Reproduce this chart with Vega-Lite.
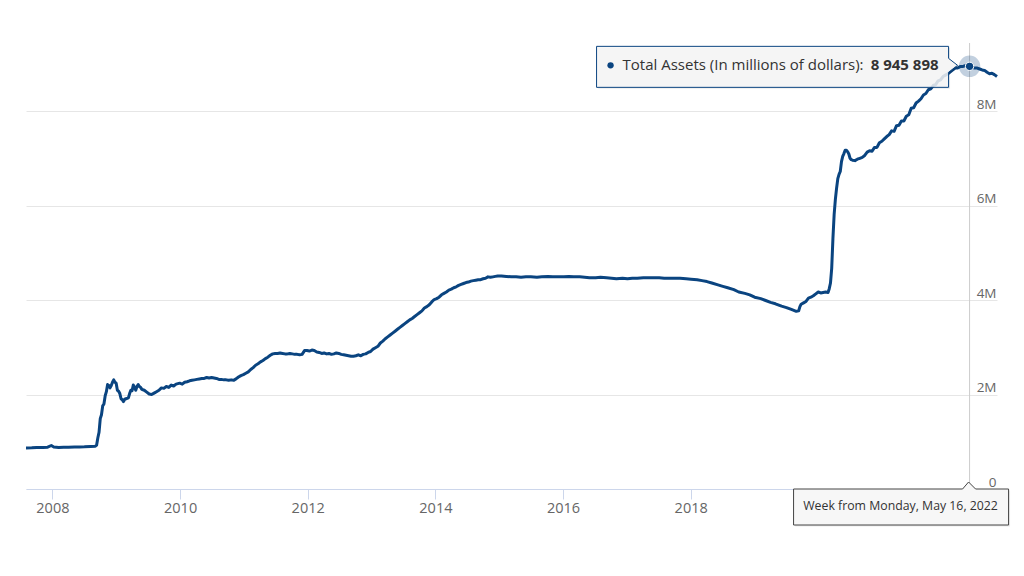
{
  "$schema": "https://vega.github.io/schema/vega-lite/v6.json",
  "width": 971,
  "height": 446,
  "autosize": {"type": "none"},
  "padding": {"left": 26, "top": 43, "right": 27, "bottom": 87},
  "background": "white",
  "config": {
    "view": {"stroke": null},
    "font": "Open Sans",
    "axis": {"labelFont": "Open Sans", "title": null}
  },
  "datasets": {
    "assets": [
      {"date": "2007-08-03", "value": 870000},
      {"date": "2007-09-05", "value": 872000},
      {"date": "2007-10-03", "value": 878000},
      {"date": "2007-11-07", "value": 876000},
      {"date": "2007-12-05", "value": 885000},
      {"date": "2007-12-26", "value": 921000},
      {"date": "2008-01-09", "value": 890000},
      {"date": "2008-02-06", "value": 878000},
      {"date": "2008-03-05", "value": 884000},
      {"date": "2008-04-02", "value": 882000},
      {"date": "2008-05-07", "value": 887000},
      {"date": "2008-06-04", "value": 890000},
      {"date": "2008-07-02", "value": 893000},
      {"date": "2008-08-06", "value": 900000},
      {"date": "2008-09-03", "value": 905000},
      {"date": "2008-09-10", "value": 928000},
      {"date": "2008-09-17", "value": 1080000},
      {"date": "2008-09-24", "value": 1200000},
      {"date": "2008-10-01", "value": 1490000},
      {"date": "2008-10-08", "value": 1570000},
      {"date": "2008-10-15", "value": 1760000},
      {"date": "2008-10-22", "value": 1800000},
      {"date": "2008-10-29", "value": 1970000},
      {"date": "2008-11-05", "value": 2060000},
      {"date": "2008-11-12", "value": 2210000},
      {"date": "2008-11-19", "value": 2190000},
      {"date": "2008-11-26", "value": 2140000},
      {"date": "2008-12-03", "value": 2190000},
      {"date": "2008-12-10", "value": 2260000},
      {"date": "2008-12-17", "value": 2310000},
      {"date": "2008-12-24", "value": 2260000},
      {"date": "2008-12-31", "value": 2240000},
      {"date": "2009-01-07", "value": 2090000},
      {"date": "2009-01-14", "value": 2070000},
      {"date": "2009-01-21", "value": 2020000},
      {"date": "2009-01-28", "value": 1910000},
      {"date": "2009-02-04", "value": 1890000},
      {"date": "2009-02-11", "value": 1850000},
      {"date": "2009-02-18", "value": 1900000},
      {"date": "2009-02-25", "value": 1910000},
      {"date": "2009-03-04", "value": 1920000},
      {"date": "2009-03-11", "value": 1930000},
      {"date": "2009-03-18", "value": 2020000},
      {"date": "2009-03-25", "value": 2090000},
      {"date": "2009-04-01", "value": 2080000},
      {"date": "2009-04-08", "value": 2200000},
      {"date": "2009-04-15", "value": 2160000},
      {"date": "2009-04-22", "value": 2090000},
      {"date": "2009-04-29", "value": 2170000},
      {"date": "2009-05-06", "value": 2210000},
      {"date": "2009-05-13", "value": 2170000},
      {"date": "2009-05-20", "value": 2150000},
      {"date": "2009-05-27", "value": 2110000},
      {"date": "2009-06-10", "value": 2090000},
      {"date": "2009-06-24", "value": 2050000},
      {"date": "2009-07-08", "value": 2010000},
      {"date": "2009-07-22", "value": 2000000},
      {"date": "2009-08-05", "value": 2030000},
      {"date": "2009-08-19", "value": 2060000},
      {"date": "2009-09-02", "value": 2090000},
      {"date": "2009-09-16", "value": 2140000},
      {"date": "2009-09-30", "value": 2130000},
      {"date": "2009-10-14", "value": 2170000},
      {"date": "2009-10-28", "value": 2150000},
      {"date": "2009-11-11", "value": 2200000},
      {"date": "2009-11-25", "value": 2180000},
      {"date": "2009-12-09", "value": 2220000},
      {"date": "2009-12-30", "value": 2240000},
      {"date": "2010-01-13", "value": 2220000},
      {"date": "2010-01-27", "value": 2260000},
      {"date": "2010-02-10", "value": 2270000},
      {"date": "2010-02-24", "value": 2290000},
      {"date": "2010-03-10", "value": 2300000},
      {"date": "2010-03-24", "value": 2310000},
      {"date": "2010-04-07", "value": 2320000},
      {"date": "2010-04-21", "value": 2330000},
      {"date": "2010-05-05", "value": 2340000},
      {"date": "2010-05-19", "value": 2340000},
      {"date": "2010-06-02", "value": 2360000},
      {"date": "2010-06-16", "value": 2350000},
      {"date": "2010-06-30", "value": 2360000},
      {"date": "2010-07-14", "value": 2350000},
      {"date": "2010-07-28", "value": 2340000},
      {"date": "2010-08-11", "value": 2320000},
      {"date": "2010-08-25", "value": 2320000},
      {"date": "2010-09-08", "value": 2310000},
      {"date": "2010-09-22", "value": 2310000},
      {"date": "2010-10-06", "value": 2300000},
      {"date": "2010-10-20", "value": 2310000},
      {"date": "2010-11-03", "value": 2300000},
      {"date": "2010-11-17", "value": 2330000},
      {"date": "2010-12-01", "value": 2370000},
      {"date": "2010-12-15", "value": 2400000},
      {"date": "2010-12-29", "value": 2420000},
      {"date": "2011-01-12", "value": 2450000},
      {"date": "2011-01-26", "value": 2480000},
      {"date": "2011-02-09", "value": 2530000},
      {"date": "2011-02-23", "value": 2570000},
      {"date": "2011-03-09", "value": 2620000},
      {"date": "2011-03-23", "value": 2650000},
      {"date": "2011-04-06", "value": 2690000},
      {"date": "2011-04-20", "value": 2720000},
      {"date": "2011-05-04", "value": 2760000},
      {"date": "2011-05-18", "value": 2790000},
      {"date": "2011-06-01", "value": 2830000},
      {"date": "2011-06-15", "value": 2860000},
      {"date": "2011-06-29", "value": 2870000},
      {"date": "2011-07-13", "value": 2870000},
      {"date": "2011-07-27", "value": 2880000},
      {"date": "2011-08-10", "value": 2870000},
      {"date": "2011-08-24", "value": 2860000},
      {"date": "2011-09-07", "value": 2860000},
      {"date": "2011-09-21", "value": 2870000},
      {"date": "2011-10-05", "value": 2860000},
      {"date": "2011-10-19", "value": 2850000},
      {"date": "2011-11-02", "value": 2850000},
      {"date": "2011-11-16", "value": 2840000},
      {"date": "2011-11-30", "value": 2850000},
      {"date": "2011-12-14", "value": 2930000},
      {"date": "2011-12-28", "value": 2930000},
      {"date": "2012-01-11", "value": 2920000},
      {"date": "2012-01-25", "value": 2940000},
      {"date": "2012-02-08", "value": 2930000},
      {"date": "2012-02-22", "value": 2900000},
      {"date": "2012-03-07", "value": 2890000},
      {"date": "2012-03-21", "value": 2870000},
      {"date": "2012-04-04", "value": 2880000},
      {"date": "2012-04-18", "value": 2860000},
      {"date": "2012-05-02", "value": 2870000},
      {"date": "2012-05-16", "value": 2850000},
      {"date": "2012-05-30", "value": 2860000},
      {"date": "2012-06-13", "value": 2880000},
      {"date": "2012-06-27", "value": 2870000},
      {"date": "2012-07-11", "value": 2850000},
      {"date": "2012-07-25", "value": 2840000},
      {"date": "2012-08-08", "value": 2830000},
      {"date": "2012-08-22", "value": 2820000},
      {"date": "2012-09-05", "value": 2810000},
      {"date": "2012-09-19", "value": 2810000},
      {"date": "2012-10-03", "value": 2820000},
      {"date": "2012-10-17", "value": 2840000},
      {"date": "2012-10-31", "value": 2820000},
      {"date": "2012-11-14", "value": 2850000},
      {"date": "2012-11-28", "value": 2860000},
      {"date": "2012-12-12", "value": 2890000},
      {"date": "2012-12-26", "value": 2910000},
      {"date": "2013-01-09", "value": 2960000},
      {"date": "2013-01-23", "value": 2990000},
      {"date": "2013-02-06", "value": 3020000},
      {"date": "2013-02-20", "value": 3090000},
      {"date": "2013-03-06", "value": 3130000},
      {"date": "2013-03-20", "value": 3180000},
      {"date": "2013-04-03", "value": 3220000},
      {"date": "2013-04-17", "value": 3260000},
      {"date": "2013-05-01", "value": 3300000},
      {"date": "2013-05-15", "value": 3340000},
      {"date": "2013-05-29", "value": 3380000},
      {"date": "2013-06-12", "value": 3420000},
      {"date": "2013-06-26", "value": 3460000},
      {"date": "2013-07-10", "value": 3500000},
      {"date": "2013-07-24", "value": 3540000},
      {"date": "2013-08-07", "value": 3580000},
      {"date": "2013-08-21", "value": 3610000},
      {"date": "2013-09-04", "value": 3650000},
      {"date": "2013-09-18", "value": 3690000},
      {"date": "2013-10-02", "value": 3730000},
      {"date": "2013-10-16", "value": 3770000},
      {"date": "2013-10-30", "value": 3830000},
      {"date": "2013-11-13", "value": 3860000},
      {"date": "2013-11-27", "value": 3900000},
      {"date": "2013-12-11", "value": 3960000},
      {"date": "2013-12-25", "value": 4010000},
      {"date": "2014-01-08", "value": 4030000},
      {"date": "2014-01-22", "value": 4060000},
      {"date": "2014-02-05", "value": 4110000},
      {"date": "2014-02-19", "value": 4140000},
      {"date": "2014-03-05", "value": 4170000},
      {"date": "2014-03-19", "value": 4210000},
      {"date": "2014-04-02", "value": 4230000},
      {"date": "2014-04-16", "value": 4260000},
      {"date": "2014-04-30", "value": 4280000},
      {"date": "2014-05-14", "value": 4310000},
      {"date": "2014-05-28", "value": 4330000},
      {"date": "2014-06-11", "value": 4350000},
      {"date": "2014-06-25", "value": 4370000},
      {"date": "2014-07-09", "value": 4380000},
      {"date": "2014-07-23", "value": 4400000},
      {"date": "2014-08-06", "value": 4410000},
      {"date": "2014-08-20", "value": 4420000},
      {"date": "2014-09-03", "value": 4430000},
      {"date": "2014-09-17", "value": 4430000},
      {"date": "2014-10-01", "value": 4450000},
      {"date": "2014-10-15", "value": 4460000},
      {"date": "2014-10-29", "value": 4490000},
      {"date": "2014-11-12", "value": 4480000},
      {"date": "2014-11-26", "value": 4490000},
      {"date": "2014-12-10", "value": 4500000},
      {"date": "2014-12-24", "value": 4510000},
      {"date": "2015-01-14", "value": 4510000},
      {"date": "2015-02-11", "value": 4500000},
      {"date": "2015-03-11", "value": 4490000},
      {"date": "2015-04-08", "value": 4490000},
      {"date": "2015-05-06", "value": 4480000},
      {"date": "2015-06-03", "value": 4490000},
      {"date": "2015-07-01", "value": 4490000},
      {"date": "2015-08-05", "value": 4480000},
      {"date": "2015-09-02", "value": 4490000},
      {"date": "2015-10-07", "value": 4500000},
      {"date": "2015-11-04", "value": 4490000},
      {"date": "2015-12-02", "value": 4490000},
      {"date": "2016-01-06", "value": 4490000},
      {"date": "2016-02-03", "value": 4500000},
      {"date": "2016-03-02", "value": 4490000},
      {"date": "2016-04-06", "value": 4490000},
      {"date": "2016-05-04", "value": 4480000},
      {"date": "2016-06-01", "value": 4470000},
      {"date": "2016-07-06", "value": 4470000},
      {"date": "2016-08-03", "value": 4480000},
      {"date": "2016-09-07", "value": 4470000},
      {"date": "2016-10-05", "value": 4460000},
      {"date": "2016-11-02", "value": 4450000},
      {"date": "2016-12-07", "value": 4460000},
      {"date": "2017-01-04", "value": 4450000},
      {"date": "2017-02-01", "value": 4460000},
      {"date": "2017-03-01", "value": 4460000},
      {"date": "2017-04-05", "value": 4470000},
      {"date": "2017-05-03", "value": 4470000},
      {"date": "2017-06-07", "value": 4470000},
      {"date": "2017-07-05", "value": 4470000},
      {"date": "2017-08-02", "value": 4460000},
      {"date": "2017-09-06", "value": 4460000},
      {"date": "2017-10-04", "value": 4460000},
      {"date": "2017-11-01", "value": 4460000},
      {"date": "2017-12-06", "value": 4450000},
      {"date": "2018-01-03", "value": 4440000},
      {"date": "2018-02-07", "value": 4430000},
      {"date": "2018-03-07", "value": 4410000},
      {"date": "2018-04-04", "value": 4390000},
      {"date": "2018-05-02", "value": 4360000},
      {"date": "2018-06-06", "value": 4320000},
      {"date": "2018-07-04", "value": 4290000},
      {"date": "2018-08-01", "value": 4260000},
      {"date": "2018-09-05", "value": 4220000},
      {"date": "2018-10-03", "value": 4170000},
      {"date": "2018-11-07", "value": 4140000},
      {"date": "2018-12-05", "value": 4110000},
      {"date": "2019-01-02", "value": 4060000},
      {"date": "2019-02-06", "value": 4030000},
      {"date": "2019-03-06", "value": 3990000},
      {"date": "2019-04-03", "value": 3950000},
      {"date": "2019-05-01", "value": 3920000},
      {"date": "2019-06-05", "value": 3870000},
      {"date": "2019-07-03", "value": 3840000},
      {"date": "2019-07-31", "value": 3800000},
      {"date": "2019-08-14", "value": 3780000},
      {"date": "2019-08-28", "value": 3760000},
      {"date": "2019-09-11", "value": 3770000},
      {"date": "2019-09-18", "value": 3860000},
      {"date": "2019-09-25", "value": 3910000},
      {"date": "2019-10-09", "value": 3940000},
      {"date": "2019-10-23", "value": 3970000},
      {"date": "2019-11-06", "value": 4040000},
      {"date": "2019-11-20", "value": 4060000},
      {"date": "2019-12-04", "value": 4090000},
      {"date": "2019-12-18", "value": 4130000},
      {"date": "2020-01-01", "value": 4170000},
      {"date": "2020-01-15", "value": 4150000},
      {"date": "2020-01-29", "value": 4160000},
      {"date": "2020-02-12", "value": 4170000},
      {"date": "2020-02-26", "value": 4160000},
      {"date": "2020-03-04", "value": 4240000},
      {"date": "2020-03-11", "value": 4360000},
      {"date": "2020-03-18", "value": 4670000},
      {"date": "2020-03-25", "value": 5300000},
      {"date": "2020-04-01", "value": 5810000},
      {"date": "2020-04-08", "value": 6130000},
      {"date": "2020-04-15", "value": 6370000},
      {"date": "2020-04-22", "value": 6570000},
      {"date": "2020-04-29", "value": 6660000},
      {"date": "2020-05-06", "value": 6720000},
      {"date": "2020-05-13", "value": 6930000},
      {"date": "2020-05-20", "value": 7040000},
      {"date": "2020-05-27", "value": 7100000},
      {"date": "2020-06-03", "value": 7170000},
      {"date": "2020-06-10", "value": 7170000},
      {"date": "2020-06-17", "value": 7140000},
      {"date": "2020-06-24", "value": 7090000},
      {"date": "2020-07-01", "value": 7000000},
      {"date": "2020-07-08", "value": 6970000},
      {"date": "2020-07-15", "value": 6960000},
      {"date": "2020-07-29", "value": 6950000},
      {"date": "2020-08-12", "value": 6980000},
      {"date": "2020-08-26", "value": 7000000},
      {"date": "2020-09-09", "value": 7020000},
      {"date": "2020-09-23", "value": 7060000},
      {"date": "2020-10-07", "value": 7130000},
      {"date": "2020-10-21", "value": 7160000},
      {"date": "2020-11-04", "value": 7150000},
      {"date": "2020-11-18", "value": 7230000},
      {"date": "2020-12-02", "value": 7230000},
      {"date": "2020-12-16", "value": 7330000},
      {"date": "2020-12-30", "value": 7360000},
      {"date": "2021-01-13", "value": 7410000},
      {"date": "2021-01-27", "value": 7460000},
      {"date": "2021-02-10", "value": 7500000},
      {"date": "2021-02-24", "value": 7580000},
      {"date": "2021-03-10", "value": 7570000},
      {"date": "2021-03-24", "value": 7690000},
      {"date": "2021-04-07", "value": 7700000},
      {"date": "2021-04-21", "value": 7790000},
      {"date": "2021-05-05", "value": 7790000},
      {"date": "2021-05-19", "value": 7890000},
      {"date": "2021-06-02", "value": 7920000},
      {"date": "2021-06-16", "value": 8060000},
      {"date": "2021-06-30", "value": 8070000},
      {"date": "2021-07-14", "value": 8170000},
      {"date": "2021-07-28", "value": 8210000},
      {"date": "2021-08-11", "value": 8260000},
      {"date": "2021-08-25", "value": 8340000},
      {"date": "2021-09-08", "value": 8370000},
      {"date": "2021-09-22", "value": 8450000},
      {"date": "2021-10-06", "value": 8470000},
      {"date": "2021-10-20", "value": 8540000},
      {"date": "2021-11-03", "value": 8560000},
      {"date": "2021-11-17", "value": 8640000},
      {"date": "2021-12-01", "value": 8660000},
      {"date": "2021-12-15", "value": 8730000},
      {"date": "2021-12-29", "value": 8760000},
      {"date": "2022-01-12", "value": 8790000},
      {"date": "2022-01-26", "value": 8830000},
      {"date": "2022-02-09", "value": 8870000},
      {"date": "2022-02-23", "value": 8910000},
      {"date": "2022-03-09", "value": 8910000},
      {"date": "2022-03-23", "value": 8940000},
      {"date": "2022-04-06", "value": 8940000},
      {"date": "2022-04-20", "value": 8960000},
      {"date": "2022-05-04", "value": 8930000},
      {"date": "2022-05-16", "value": 8945898},
      {"date": "2022-06-01", "value": 8920000},
      {"date": "2022-06-15", "value": 8910000},
      {"date": "2022-06-29", "value": 8910000},
      {"date": "2022-07-13", "value": 8890000},
      {"date": "2022-07-27", "value": 8870000},
      {"date": "2022-08-10", "value": 8860000},
      {"date": "2022-08-24", "value": 8820000},
      {"date": "2022-09-07", "value": 8790000},
      {"date": "2022-09-21", "value": 8800000},
      {"date": "2022-10-05", "value": 8770000},
      {"date": "2022-10-20", "value": 8730000}
    ],
    "hover": [
      {"date": "2022-05-16", "value": 8945898, "zero": 0, "label": "Total Assets (In millions of dollars): ", "valtext": "8 945 898", "week": "Week from Monday, May 16, 2022"}
    ]
  },
  "encoding": {
    "x": {
      "field": "date",
      "type": "temporal",
      "scale": {"domain": [{"year": 2007, "month": 8, "date": 3, "utc": true}, {"year": 2022, "month": 10, "date": 20, "utc": true}]},
      "axis": {
        "values": [
          {"year": 2008, "month": 1, "date": 1, "utc": true},
          {"year": 2010, "month": 1, "date": 1, "utc": true},
          {"year": 2012, "month": 1, "date": 1, "utc": true},
          {"year": 2014, "month": 1, "date": 1, "utc": true},
          {"year": 2016, "month": 1, "date": 1, "utc": true},
          {"year": 2018, "month": 1, "date": 1, "utc": true},
          {"year": 2020, "month": 1, "date": 1, "utc": true},
          {"year": 2022, "month": 1, "date": 1, "utc": true}
        ],
        "labelExpr": "utcyear(datum.value) >= 2020 ? '' : utcFormat(datum.value, '%Y')",
        "grid": false,
        "domainColor": "#ccd6eb",
        "tickColor": "#ccd6eb",
        "tickSize": 10,
        "labelPadding": 2,
        "labelColor": "#666666",
        "labelFontSize": 14.5,
        "labelFlush": false,
        "labelOverlap": false
      }
    },
    "y": {
      "field": "value",
      "type": "quantitative",
      "scale": {"domain": [0, 9440000], "nice": false, "zero": true},
      "axis": {
        "orient": "right",
        "values": [0, 2000000, 4000000, 6000000, 8000000],
        "labelExpr": "datum.value === 0 ? '0' : (datum.value / 1000000) + 'M'",
        "grid": true,
        "gridColor": "#e6e6e6",
        "domain": false,
        "ticks": false,
        "tickSize": 0,
        "labelAlign": "right",
        "labelBaseline": "alphabetic",
        "labelOffset": -3,
        "labelPadding": -1,
        "labelColor": "#666666",
        "labelFontSize": 13.5
      }
    }
  },
  "layer": [
    {
      "data": {"name": "assets"},
      "mark": {"type": "line", "color": "#0a4480", "strokeWidth": 3, "strokeJoin": "round"}
    },
    {
      "data": {"name": "hover"},
      "mark": {"type": "rule", "color": "#cccccc", "strokeWidth": 1},
      "encoding": {"y": null}
    },
    {
      "data": {"name": "hover"},
      "mark": {"type": "point", "shape": "M -373 -20 L -21 -20 L -21 -8 L -12 -1 L -21 6 L -21 21 L -373 21 Z", "size": 4, "filled": true, "fill": "#000000", "fillOpacity": 0.08, "strokeOpacity": 0, "opacity": 1, "xOffset": 1.5, "yOffset": 1.5}
    },
    {
      "data": {"name": "hover"},
      "mark": {"type": "point", "shape": "M -373 -20 L -21 -20 L -21 -8 L -12 -1 L -21 6 L -21 21 L -373 21 Z", "size": 4, "filled": true, "fill": "#f7f7f7", "fillOpacity": 0.85, "stroke": "#0a4480", "strokeWidth": 1, "opacity": 1}
    },
    {
      "data": {"name": "hover"},
      "mark": {"type": "point", "shape": "circle", "size": 40, "filled": true, "fill": "#0a4480", "opacity": 1, "xOffset": -359, "yOffset": -1}
    },
    {
      "data": {"name": "hover"},
      "mark": {"type": "text", "align": "left", "baseline": "alphabetic", "dx": -347, "dy": 3.5, "fontSize": 15, "color": "#333333"},
      "encoding": {"text": {"field": "label"}}
    },
    {
      "data": {"name": "hover"},
      "mark": {"type": "text", "align": "right", "baseline": "alphabetic", "dx": -31, "dy": 3.5, "fontSize": 15, "fontWeight": "bold", "color": "#333333"},
      "encoding": {"text": {"field": "valtext"}}
    },
    {
      "data": {"name": "hover"},
      "mark": {"type": "point", "shape": "circle", "size": 460, "filled": true, "fill": "#0a4480", "opacity": 0.25}
    },
    {
      "data": {"name": "hover"},
      "mark": {"type": "point", "shape": "circle", "size": 70, "filled": true, "fill": "#0a4480", "stroke": "#ffffff", "strokeWidth": 1, "opacity": 1}
    },
    {
      "data": {"name": "hover"},
      "mark": {"type": "point", "shape": "M -176 0 L -7 0 L -1 -7 L 6 0 L 39 0 L 39 36 L -176 36 Z", "size": 4, "filled": true, "fill": "#000000", "fillOpacity": 0.08, "strokeOpacity": 0, "opacity": 1, "xOffset": 1.5, "yOffset": 1.5},
      "encoding": {"y": {"field": "zero", "type": "quantitative"}}
    },
    {
      "data": {"name": "hover"},
      "mark": {"type": "point", "shape": "M -176 0 L -7 0 L -1 -7 L 6 0 L 39 0 L 39 36 L -176 36 Z", "size": 4, "filled": true, "fill": "#f7f7f7", "stroke": "#444444", "strokeWidth": 1, "opacity": 1},
      "encoding": {"y": {"field": "zero", "type": "quantitative"}}
    },
    {
      "data": {"name": "hover"},
      "mark": {"type": "text", "align": "center", "baseline": "alphabetic", "dx": -69, "dy": 21, "fontSize": 12.3, "color": "#333333"},
      "encoding": {"y": {"field": "zero", "type": "quantitative"}, "text": {"field": "week"}}
    }
  ]
}
